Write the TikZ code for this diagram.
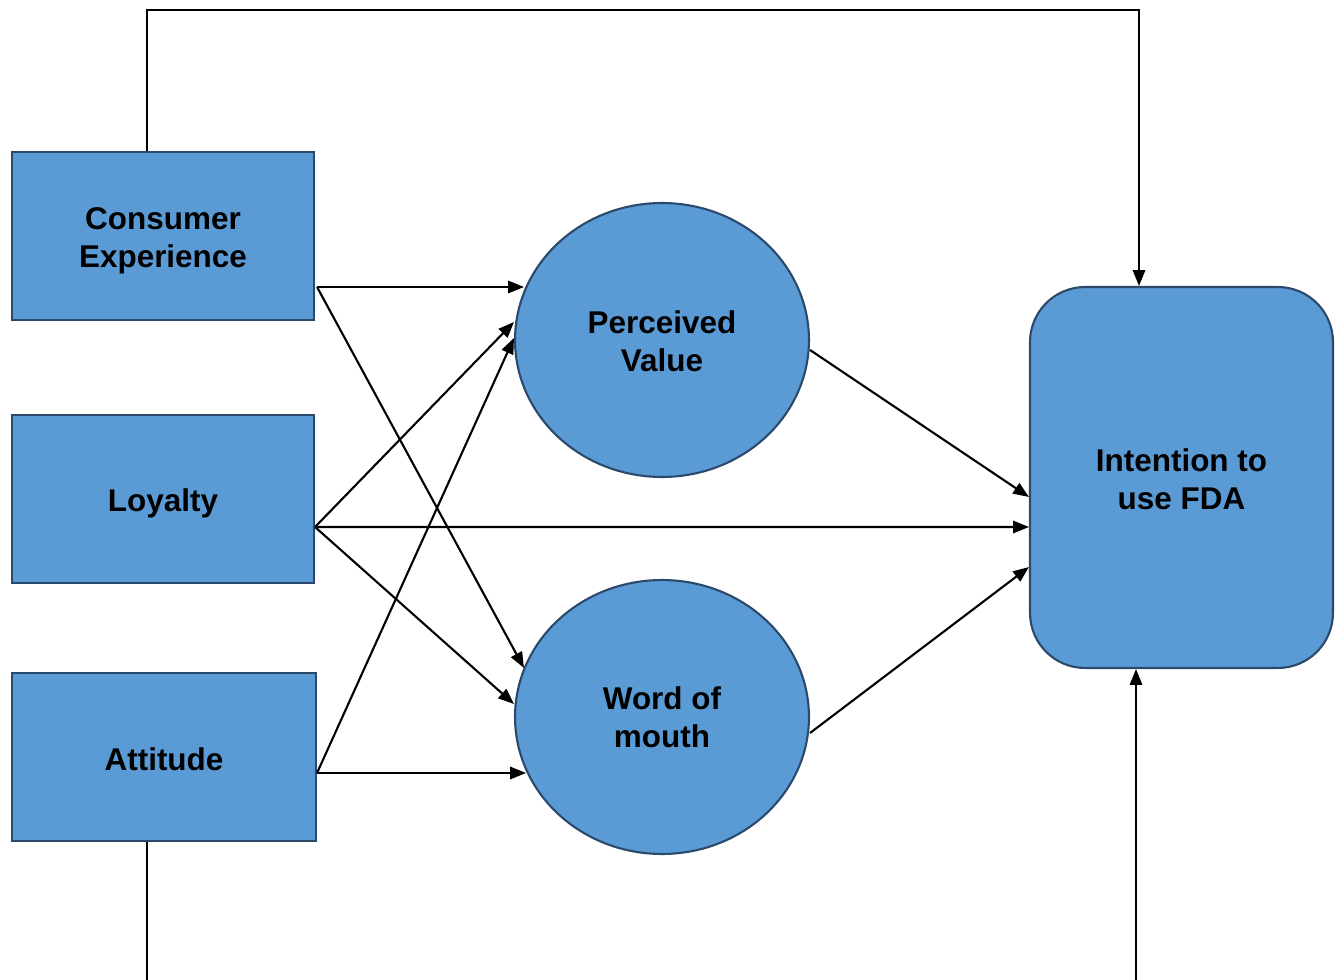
\documentclass[tikz,border=0pt]{standalone}
\usepackage{fontspec}
\setmainfont{Liberation Sans}
\usetikzlibrary{arrows.meta,shapes.geometric,calc}
\definecolor{boxfill}{HTML}{5B9BD5}
\definecolor{boxline}{HTML}{2B4A6B}
\begin{document}
\begin{tikzpicture}[x=0.02cm,y=-0.02cm,
  txt/.style={font=\fontsize{17.9}{21.8}\selectfont\bfseries, align=center, text=black, inner sep=0pt},
  sqbox/.style={draw=boxline, fill=boxfill, line width=1.2pt, rectangle, inner sep=0pt},
  circbox/.style={draw=boxline, fill=boxfill, line width=1.2pt, ellipse, inner sep=0pt,
    minimum width=5.88cm, minimum height=5.48cm},
  arr/.style={line width=1.2pt, -{Triangle[length=9pt,width=7pt]}},
  ln/.style={line width=1.2pt}]
\useasboundingbox (0,0) rectangle (1343,980);
\node[sqbox, minimum width=6.04cm, minimum height=3.36cm] (ce) at (163,236) {};
\node[sqbox, minimum width=6.04cm, minimum height=3.36cm] (loy) at (163,499) {};
\node[sqbox, minimum width=6.08cm, minimum height=3.36cm] (att) at (164,757) {};
\node[circbox] (pv) at (662,340) {};
\node[circbox] (wom) at (662,717) {};
\node[sqbox, rounded corners=1.1cm, minimum width=6.06cm, minimum height=7.62cm] (int) at (1181.5,477.5) {};
\node[txt] (ce-t) at ($(ce)+(0,5)$) {Consumer\\Experience};
\node[txt] (loy-t) at ($(loy)+(0,4)$) {Loyalty};
\node[txt] (att-t) at ($(att)+(0,2)$) {Attitude};
\node[txt] (pv-t) at ($(pv)+(0,1)$) {Perceived\\Value};
\node[txt] (wom-t) at (wom) {Word of\\mouth};
\node[txt] (int-t) at ($(int)+(0,2)$) {Intention to\\use FDA};
\coordinate (b1) at (147,980);
\coordinate (b2) at (1136,980);
% top feedback line
\draw[arr] ($(ce.north)+(-16,0)$) |- ($(int.north)+(-42.5,-276)$) -- ($(int.north)+(-42.5,0)$);
% bottom lines
\draw[ln] ($(att.south)+(-17,0)$) -- (b1);
\draw[arr] (b2) -- ($(int.south)+(-45.5,0)$);
% consumer experience
\draw[arr] ($(ce.east)+(2,51)$) -- ($(pv.west)+(10,-53)$);
\draw[arr] ($(ce.east)+(2,51)$) -- ($(wom.west)+(10,-49)$);
% loyalty
\draw[arr] ($(loy.east)+(0,28)$) -- ($(pv.west)+(0,-18)$);
\draw[arr] ($(loy.east)+(0,28)$) -- ($(int.west)+(0,49.5)$);
\draw[arr] ($(loy.east)+(0,28)$) -- ($(wom.west)+(0,-13)$);
% attitude
\draw[arr] ($(att.east)+(0,16)$) -- ($(pv.west)+(0,-2)$);
\draw[arr] ($(att.east)+(0,16)$) -- ($(wom.west)+(12,56)$);
% to intention
\draw[arr] ($(pv.east)+(0,10)$) -- ($(int.west)+(0,19.5)$);
\draw[arr] ($(wom.east)+(0,16)$) -- ($(int.west)+(0,89.5)$);
\end{tikzpicture}
\end{document}
